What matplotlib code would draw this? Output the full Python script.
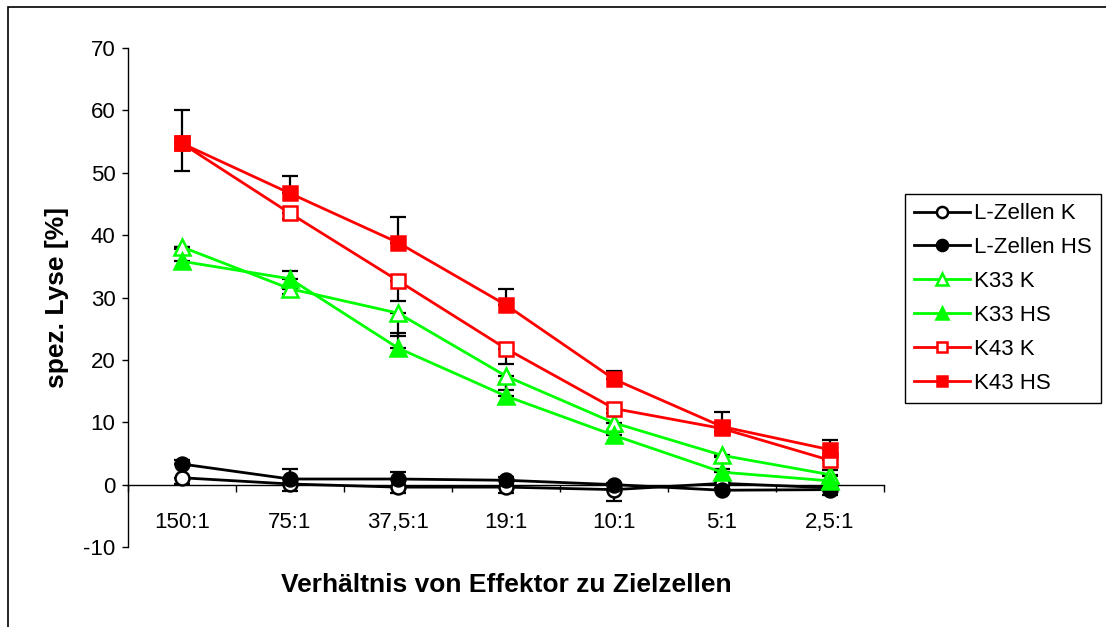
import matplotlib
matplotlib.use("Agg")
import matplotlib.pyplot as plt
import numpy as np
from matplotlib.patches import Rectangle

# Daten
verhaeltnis = ['150:1', '75:1', '37,5:1', '19:1', '10:1', '5:1', '2,5:1']

l_zellen_k = [1.1, 0.1, -0.4, -0.4, -0.8, 0.2, -0.5]
l_zellen_hs = [3.3, 0.9, 0.9, 0.7, 0.0, -0.9, -0.8]
k33_k = [38.1, 31.4, 27.5, 17.4, 9.9, 4.7, 1.6]
k33_hs = [35.8, 33.0, 21.9, 14.2, 7.9, 2.0, 0.6]
k43_k = [54.7, 43.5, 32.7, 21.8, 12.2, 9.0, 3.9]
k43_hs = [54.7, 46.7, 38.8, 28.8, 16.9, 9.3, 5.6]

# Fehlerbalken (K: nach unten, HS: nach oben)
l_zellen_k_err = [1.0, 1.1, 0.9, 0.9, 1.8, 0.3, 1.2]
l_zellen_hs_err = [0.6, 1.6, 1.1, 0.5, 0.3, 0.3, 0.3]
k33_k_err = [0.3, 0.8, 3.7, 2.3, 1.2, 0.3, 1.2]
k33_hs_err = [2.3, 1.2, 2.4, 2.1, 0.6, 0.5, 0.8]
k43_k_err = [4.4, 0.9, 3.2, 2.5, 0.7, 0.5, 1.5]
k43_hs_err = [5.3, 2.7, 4.1, 2.6, 1.3, 2.4, 1.5]

plt.rcParams['font.family'] = ['Liberation Sans', 'DejaVu Sans']
plt.rcParams['axes.unicode_minus'] = False

fig = plt.figure(figsize=(11.06, 6.27), dpi=100)
ax = fig.add_axes([128 / 1106, 1 - 547 / 627, (884 - 128) / 1106, (547 - 48) / 627])

x = np.arange(len(verhaeltnis))
nullen = np.zeros(len(x))

serien = [
    ('L-Zellen K', l_zellen_k, l_zellen_k_err, 'black', 'o', False, 10),
    ('L-Zellen HS', l_zellen_hs, l_zellen_hs_err, 'black', 'o', True, 10),
    ('K33 K', k33_k, k33_k_err, '#00ff00', '^', False, 11),
    ('K33 HS', k33_hs, k33_hs_err, '#00ff00', '^', True, 11),
    ('K43 K', k43_k, k43_k_err, '#ff0000', 's', False, 9.5),
    ('K43 HS', k43_hs, k43_hs_err, '#ff0000', 's', True, 9.5),
]

linien = []
for name, werte, fehler, farbe, marker, gefuellt, ms in serien:
    if gefuellt:
        yerr = [nullen, fehler]
    else:
        yerr = [fehler, nullen]
    ax.errorbar(x, werte, yerr=yerr, fmt='none', ecolor='black',
                elinewidth=1.6, capsize=6, capthick=1.6, zorder=2, clip_on=False)
    linie, = ax.plot(x, werte, color=farbe, lw=2, marker=marker, ms=ms,
                     mfc=farbe if gefuellt else 'white', mec=farbe, mew=1.8,
                     label=name, zorder=3, clip_on=False)
    linien.append(linie)

ax.set_xlim(-0.5, 6.5)
ax.set_ylim(-10, 70)
ax.set_yticks(np.arange(-10, 71, 10))
ax.tick_params(axis='y', direction='out', length=4, width=1, labelsize=16, pad=5)

ax.set_xticks(np.arange(-0.5, 7, 1))
ax.set_xticklabels([])
ax.set_xticks(x, minor=True)
ax.set_xticklabels(verhaeltnis, minor=True)
ax.tick_params(axis='x', which='major', direction='out', length=5, width=1)
ax.tick_params(axis='x', which='minor', length=0, labelsize=16, pad=20)

ax.spines['top'].set_visible(False)
ax.spines['right'].set_visible(False)
ax.spines['bottom'].set_position(('data', 0))
ax.spines['left'].set_linewidth(1)
ax.spines['bottom'].set_linewidth(1)

ax.set_ylabel('spez. Lyse [%]', fontsize=19, fontweight='bold', labelpad=10)
fig.text((128 + 884) / 2 / 1106, 1 - 585 / 627, 'Verhältnis von Effektor zu Zielzellen',
         fontsize=19, fontweight='bold', ha='center', va='center')

leg = fig.legend(handles=linien, loc='upper left', bbox_to_anchor=(905 / 1106, 1 - 194 / 627),
                 fontsize=16, frameon=True, fancybox=False, framealpha=1, edgecolor='black',
                 handlelength=2.5, handletextpad=0.2, labelspacing=0.58, borderpad=0.42,
                 borderaxespad=0, markerscale=0.8)
leg.get_frame().set_linewidth(1)

# Rahmen um das Diagramm
fig.patches.append(Rectangle((8 / 1106, -0.1), 1.2, 1 - 7 / 627 + 0.1, transform=fig.transFigure,
                             fill=False, edgecolor='black', lw=1.2))

fig.savefig('out.png', dpi=100)
